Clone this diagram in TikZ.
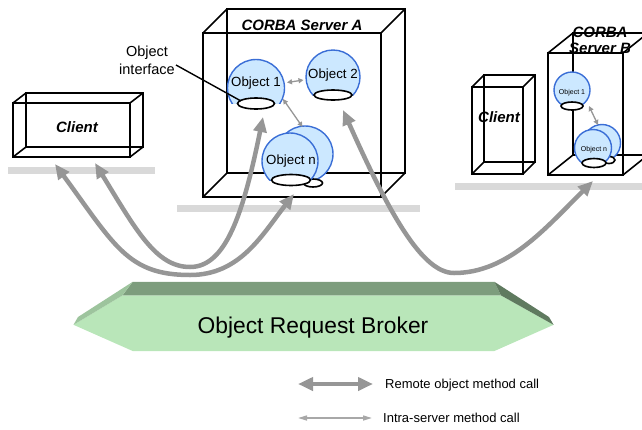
\documentclass[tikz,border=0pt]{standalone}
\usepackage{fontspec}
\setmainfont{Liberation Sans}
\usetikzlibrary{arrows.meta,shapes.geometric}

\definecolor{shelfgray}{RGB}{217,217,217}
\definecolor{arrowgray}{RGB}{150,150,150}
\definecolor{thingray}{RGB}{168,168,168}
\definecolor{objfill}{RGB}{204,232,255}
\definecolor{objline}{RGB}{58,110,214}
\definecolor{orbface}{RGB}{185,230,185}
\definecolor{orbtop}{RGB}{125,157,125}
\definecolor{orbleft}{RGB}{157,196,157}
\definecolor{orbright}{RGB}{95,122,95}

\tikzset{
  boxline/.style={draw=black, line width=1.6pt, line join=miter},
  ball/.style={circle, draw=objline, fill=objfill, line width=1.4pt, inner sep=0pt},
  port/.style={ellipse, draw=black, fill=white, line width=1.6pt, inner sep=0pt},
  title/.style={font=\fontsize{15}{16}\selectfont\bfseries\itshape, inner sep=0pt},
  labA/.style={font=\fontsize{13.3}{15}\selectfont, inner sep=0pt},
  labB/.style={font=\fontsize{7}{8}\selectfont, inner sep=0pt},
  legend/.style={font=\fontsize{13}{15}\selectfont, inner sep=0pt, anchor=west},
  remote/.style={draw=arrowgray, line width=4.5pt,
    arrows={Triangle[length=15pt,width=13pt]-Triangle[length=15pt,width=13pt]}},
  intra/.style={draw=arrowgray, line width=1.3pt,
    arrows={Triangle[length=5pt,width=5pt]-Triangle[length=5pt,width=5pt]}},
  legthin/.style={draw=thingray, line width=1.5pt,
    arrows={Triangle[length=9pt,width=5pt]-Triangle[length=9pt,width=5pt]}},
}

% wire-frame box: front face (x1,y1)-(x2,y2), back face shifted by (dx,dy)
\newcommand\wirebox[6]{%
  \draw[boxline] (#1,#2) rectangle (#3,#4);
  \draw[boxline] (#1+#5,#2+#6) rectangle (#3+#5,#4+#6);
  \draw[boxline] (#1,#2) -- ++(#5,#6) (#3,#2) -- ++(#5,#6)
                 (#1,#4) -- ++(#5,#6) (#3,#4) -- ++(#5,#6);
}

% object sphere cut off at the level of its interface ring
% #1 name, #2 x, #3 y, #4 radius, #5 cut level
\newcommand\drawball[5]{%
  \begin{scope}
    \clip (#2-#4-3,#3-#4-3) rectangle (#2+#4+3,#5);
    \node[ball, minimum size={2*#4pt}] (#1) at (#2,#3) {};
  \end{scope}
}

\begin{document}
\begin{tikzpicture}[x=1pt,y=-1pt]
\useasboundingbox (0,0) rectangle (642,429);
\clip (0,0) rectangle (642,429);

% shelves
\fill[shelfgray] (8,167) rectangle (155,174);
\fill[shelfgray] (177,205) rectangle (420,212);
\fill[shelfgray] (455,183) rectangle (642,190);

% Object Request Broker slab
\fill[orbface] (122.5,295.4) -- (501,295.4) -- (553.6,324.8) -- (494.4,351)
  -- (132.7,351) -- (73.5,324.8) -- cycle;
\fill[orbtop] (132.7,281.8) -- (494.4,281.8) -- (501,295.4) -- (122.5,295.4) -- cycle;
\fill[orbleft] (132.7,281.8) -- (122.5,295.4) -- (73.5,324.8) -- (78,317) -- cycle;
\fill[orbright] (494.4,281.8) -- (501,295.4) -- (553.6,324.8) -- (549,317) -- cycle;
\node[font=\fontsize{22.8}{27}\selectfont] (orb) at (313,328) {Object Request Broker};

% boxes
\wirebox{13}{103}{130}{157}{13}{-10}
\wirebox{203}{33}{381}{197}{24}{-24}
\wirebox{472}{87}{523}{174}{12}{-12}
\wirebox{548}{53}{623}{175}{25}{-20}

% box titles
\node[title] (clientL) at (77,127) {Client};
\node[title] (clientR) at (499,117) {Client};
\node[title] (srvA) at (302,25) {CORBA Server A};
\node[title, align=center] (srvB) at (600,40) {CORBA\\Server B};

% objects of server A
\drawball{anb}{305}{154}{28}{183}
\node[port, minimum width=19pt, minimum height=8pt] (anbp) at (313,183) {};
\drawball{anf}{290}{161}{28}{180}
\node[port, minimum width=39pt, minimum height=11pt] (anfp) at (291,180) {};
\drawball{a1}{256}{88}{28.5}{103.5}
\node[port, minimum width=37pt, minimum height=11pt] (a1p) at (256,103.5) {};
\drawball{a2}{333}{77}{27}{95}
\node[port, minimum width=38pt, minimum height=10pt] (a2p) at (333,95) {};
\node[labA] (a1t) at (256,83.5) {Object 1};
\node[labA] (a2t) at (333,75.5) {Object 2};
\node[labA] (ant) at (291,161.5) {Object n};

% objects of server B
\drawball{b1}{572}{90}{18}{106}
\node[port, minimum width=22pt, minimum height=8pt] (b1p) at (572,106) {};
\drawball{bnb}{602}{143}{18.5}{160}
\node[port, minimum width=12pt, minimum height=7pt] (bnbp) at (609,160) {};
\drawball{bnf}{593}{148}{18.5}{163}
\node[port, minimum width=24pt, minimum height=9pt] (bnfp) at (594,163) {};
\node[labB] (b1t) at (572,93) {Object 1};
\node[labB] (bnt) at (594,149.5) {Object n};

% intra-server calls
\coordinate (i1a) at (287,82.5);  \coordinate (i1b) at (303.5,80);
\coordinate (i2a) at (283,99);    \coordinate (i2b) at (302.5,127);
\coordinate (i3a) at (589,106);   \coordinate (i3b) at (598,125);
\draw[intra] (i1a) -- (i1b);
\draw[intra] (i2a) -- (i2b);
\draw[intra] (i3a) -- (i3b);

% object interface callout
\node[font=\fontsize{14.5}{17.5}\selectfont, align=center, inner sep=0pt] (oif) at (147,60.5) {Object\\interface};
\coordinate (oifs) at (176,65);
\coordinate (oife) at (241,101);
\draw[line width=1.4pt] (oifs) -- (oife);

% remote calls through the broker
\coordinate (tC1) at (55,164);  \coordinate (tC2) at (95,163);
\coordinate (tA1) at (263,117); \coordinate (tAn) at (294,194);
\coordinate (tA2) at (343,110); \coordinate (tB) at (593,181);
\coordinate (bot1) at (190,275); \coordinate (bot2) at (190,267);
\coordinate (bot3) at (454,273);
\draw[remote] (tC1) .. controls (115,246) and (128,275) .. (bot1)
  .. controls (240,275) and (262,235) .. (tAn);
\draw[remote] (tC2) .. controls (136,230) and (156,267) .. (bot2)
  .. controls (225.5,267) and (243,215) .. (tA1);
\draw[remote] (tA2) .. controls (389,213) and (422,273) .. (bot3)
  .. controls (507.6,273) and (544.8,228.9) .. (tB);

% legend
\coordinate (lg1a) at (298,384); \coordinate (lg1b) at (373,384);
\draw[remote] (lg1a) -- (lg1b);
\node[legend] (lgt1) at (385,385) {Remote object method call};
\coordinate (lg2a) at (298,418); \coordinate (lg2b) at (372,418);
\draw[legthin] (lg2a) -- (lg2b);
\node[legend] (lgt2) at (383,418) {Intra-server method call};
\end{tikzpicture}
\end{document}
